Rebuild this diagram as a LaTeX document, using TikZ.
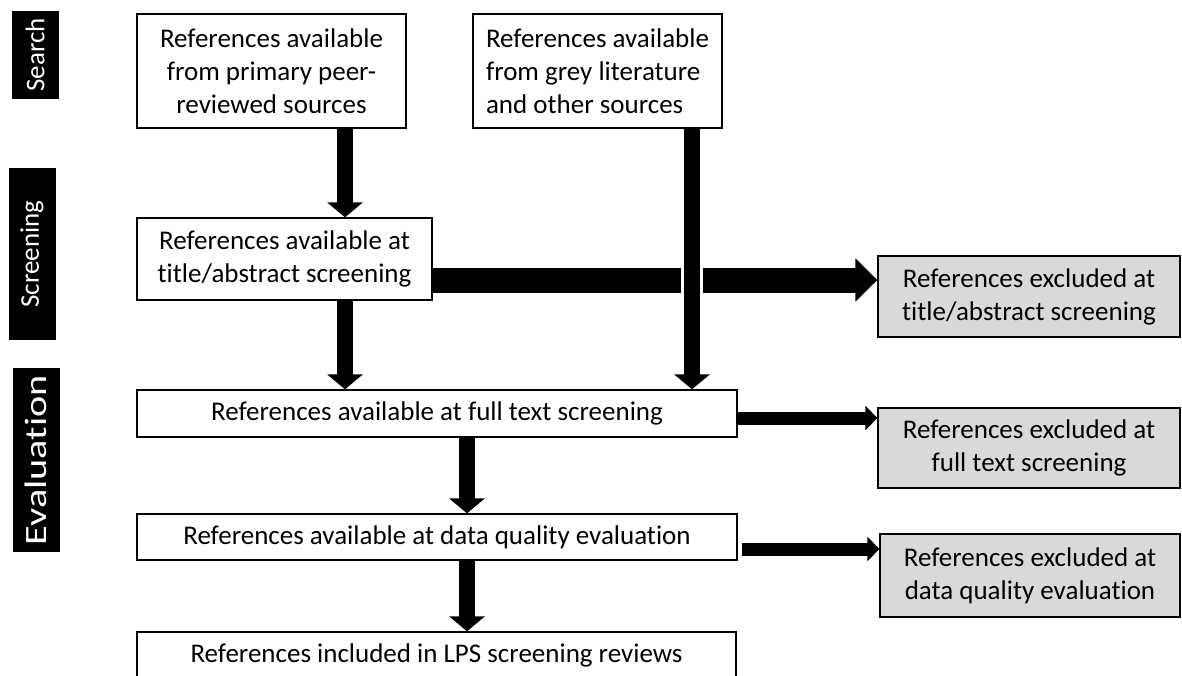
\documentclass[tikz,border=0pt]{standalone}
\usepackage{fontspec}
\setmainfont{Carlito}[Ligatures = NoCommon]
\usetikzlibrary{arrows.meta}

\begin{document}
\begin{tikzpicture}[x=1pt, y=-1pt]

		\clip (0,0) rectangle (1182,675);
		\fill[white] (0,0) rectangle (1182,675);

		\tikzset{StageStyle/.style = {fill = black, text = white, rotate = 90, minimum height = 47pt, inner sep = 0pt}}
		\node[StageStyle, minimum width = 88pt, font = \fontsize{27}{32}\selectfont] (search) at (35,55) {Search};
		\node[StageStyle, minimum width = 172pt, font = \fontsize{27}{32}\selectfont] (screen) at (32,254) {Screening};
		\node[StageStyle, minimum width = 184pt, font = \fontsize{31}{36}\selectfont] (evalu) at (36,460) {\scalebox{1.3}[1]{Evaluation}};

		\tikzset{BoxStyle/.style = {draw, shape = rectangle, line width = 1.3pt, align = center, inner sep = 0pt, font = \fontsize{27}{33}\selectfont}}
		\tikzset{OutStyle/.style = {BoxStyle, fill = black!15}}

		\node[BoxStyle, minimum width = 269pt, minimum height = 114pt] (prim) at (271.5,71) {References available\\from primary peer-\\reviewed sources};
		\node[BoxStyle, align = left, minimum width = 249pt, minimum height = 114pt] (grey) at (597.5,71) {References available\\from grey literature\\and other sources};
		\node[BoxStyle, minimum width = 295pt, minimum height = 82pt] (titabs) at (284.5,259) {References available at\\title/abstract screening};
		\node[BoxStyle, minimum width = 600pt, minimum height = 47pt] (full) at (437,413.5) {References available at full text screening};
		\node[BoxStyle, minimum width = 600pt, minimum height = 46pt] (dq) at (437,537) {References available at data quality evaluation};
		\node[BoxStyle, minimum width = 599pt, minimum height = 46pt] (incl) at (436.5,655) {References included in LPS screening reviews};

		\node[OutStyle, minimum width = 302pt, minimum height = 81pt] (exta) at (1029,296.5) {References excluded at\\title/abstract screening};
		\node[OutStyle, minimum width = 302pt, minimum height = 80pt] (exfull) at (1029,448) {References excluded at\\full text screening};
		\node[OutStyle, minimum width = 300pt, minimum height = 83pt] (exdq) at (1030,575.5) {References excluded at\\data quality evaluation};

		% columns and rows of the arrows
		\coordinate (c1) at (345,0);
		\coordinate (c2) at (692,0);
		\coordinate (c3) at (467,0);
		\coordinate (r1) at (0,280);
		\coordinate (r2) at (0,418);
		\coordinate (r3) at (0,549);

		\tikzset{DownStyle/.style = {line width = 16pt, -{Triangle[length = 15pt, width = 35pt]}}}
		\tikzset{BigStyle/.style = {line width = 25pt, -{Triangle[length = 22pt, width = 42pt]}}}
		\tikzset{SideStyle/.style = {line width = 13pt, -{Triangle[length = 12pt, width = 24pt]}}}

		\draw[DownStyle] (prim.south -| c1) -- (titabs.north -| c1);
		\draw[BigStyle] (titabs.east |- r1) -- (exta.west |- r1);
		\draw[white, line width = 22pt] ([yshift = 17pt]c2 |- r1) -- ([yshift = -17pt]c2 |- r1); % gap at the crossing
		\draw[DownStyle] (grey.south -| c2) -- (full.north -| c2);
		\draw[DownStyle] (titabs.south -| c1) -- (full.north -| c1);

		\draw[SideStyle] (full.east |- r2) -- (exfull.west |- r2);
		\draw[DownStyle] (full.south -| c3) -- (dq.north -| c3);
		\draw[SideStyle] ([xshift = 4pt]dq.east |- r3) -- (exdq.west |- r3);
		\draw[DownStyle] (dq.south -| c3) -- (incl.north -| c3);

\end{tikzpicture}
\end{document}
